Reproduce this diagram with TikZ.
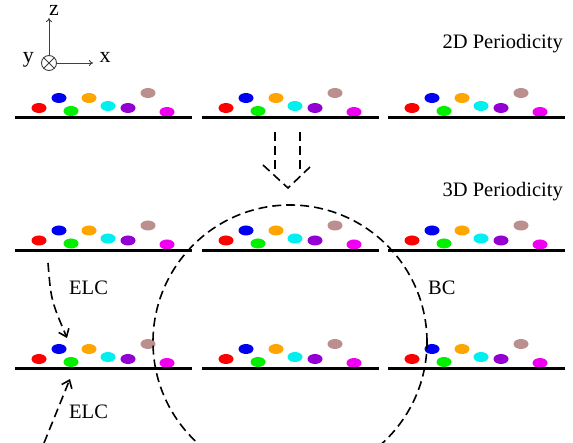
\documentclass[tikz,border=0pt]{standalone}
\usepackage{fontspec}
\setmainfont{Liberation Serif}
\usetikzlibrary{arrows.meta,shapes.geometric}
\definecolor{cred}{RGB}{255,0,0}
\definecolor{cblue}{RGB}{0,0,240}
\definecolor{cgreen}{RGB}{0,240,0}
\definecolor{corange}{RGB}{255,165,0}
\definecolor{ccyan}{RGB}{0,240,240}
\definecolor{cpurple}{RGB}{148,0,211}
\definecolor{cbrown}{RGB}{188,143,143}
\definecolor{cmagenta}{RGB}{240,0,240}
\begin{document}
\begin{tikzpicture}[x=1pt,y=-1pt,
  dot/.style={ellipse, minimum width=15pt, minimum height=10pt, inner sep=0pt, draw=none},
  ground/.style={line width=3pt},
  dsh/.style={dash pattern=on 9pt off 5pt, line width=1.6pt},
  lbl/.style={font=\fontsize{20.5}{24}\selectfont, inner sep=0pt},
  axlbl/.style={font=\fontsize{22}{24}\selectfont, inner sep=0pt},
  axis/.style={line width=0.9pt, draw=black!75, -{To[length=4pt,width=6pt]}},
  barb/.style={-{Straight Barb[length=7pt,width=11pt]}}]
\useasboundingbox (0,0) rectangle (573,443);
\clip (0,0) rectangle (573,443);
\fill[white] (0,0) rectangle (573,443);

% slabs
\foreach \r/\ly in {1/118,2/250.5,3/369}{
  \foreach \c/\lx in {1/15,2/202,3/388}{
    \foreach \i/\dx/\dy/\col in {1/24/10/cred,2/44/20/cblue,3/56/7/cgreen,4/74/20/corange,5/93/12/ccyan,6/113/10/cpurple,7/133/25/cbrown,8/152/6/cmagenta}{
      \node[dot, fill=\col] (d\r\c\i) at ({\lx+\dx},{\ly-\dy}) {};
    }
    \coordinate (g\r\c a) at (\lx,\ly);
    \coordinate (g\r\c b) at ({\lx+177},\ly);
    \draw[ground] (g\r\c a) -- (g\r\c b);
  }
}

% axes
\node[circle, draw=black!75, line width=0.9pt, minimum size=15pt, inner sep=0pt] (o) at (49,63) {};
\draw[black!75, line width=0.9pt] (o.north west) -- (o.south east) (o.north east) -- (o.south west);
\coordinate (zt) at (49,18);
\coordinate (xt) at (93,63);
\draw[axis] (o.north) -- (zt);
\draw[axis] (o.east) -- (xt);
\node[axlbl, anchor=base] (zl) at (54,16) {z};
\node[axlbl, anchor=base] (yl) at (28.5,63) {y};
\node[axlbl, anchor=base] (xl) at (105,63) {x};

% titles
\node[lbl, anchor=base east] (p2) at (563,49) {2D Periodicity};
\node[lbl, anchor=base east] (p3) at (563,197) {3D Periodicity};

% big arrow
\coordinate (a1s) at (275,132); \coordinate (a1e) at (275,172);
\coordinate (a2s) at (300,132); \coordinate (a2e) at (300,172);
\coordinate (cl) at (263,165); \coordinate (ct) at (288,188); \coordinate (cr) at (310,167);
\draw[dsh] (a1s) -- (a1e);
\draw[dsh] (a2s) -- (a2e);
\draw[dsh] (cl) -- (ct) -- (cr);

% ELC arrows
\coordinate (e1s) at (48,263); \coordinate (e1e) at (67,338);
\coordinate (e2s) at (44,443); \coordinate (e2e) at (70,379);
\draw[dsh, barb] (e1s) .. controls (51,300) .. (e1e);
\draw[dsh, barb] (e2s) .. controls (56,412) .. (e2e);
\node[lbl, anchor=base west] (elc1) at (69,295) {ELC};
\node[lbl, anchor=base west] (elc2) at (69,418) {ELC};
\node[lbl, anchor=base west] (bc) at (428,295) {BC};

% cut-off circle
\node[circle, draw, dsh, minimum size=274pt, inner sep=0pt] (cut) at (290,342) {};
\end{tikzpicture}
\end{document}
